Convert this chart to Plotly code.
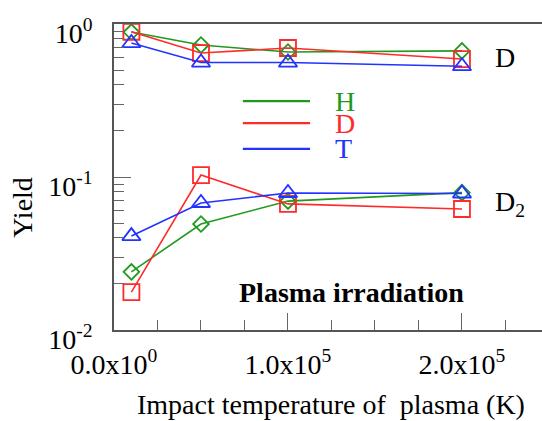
import plotly.graph_objects as go

# ---- data ----
temperature = [1.0e4, 5.0e4, 1.0e5, 2.0e5]
H_D = [0.886, 0.729, 0.656, 0.667]
D_D = [0.89, 0.646, 0.697, 0.59]
T_D = [0.751, 0.56, 0.56, 0.53]
H_D2 = [0.0240, 0.0493, 0.0696, 0.079]
D_D2 = [0.0177, 0.103, 0.0667, 0.0618]
T_D2 = [0.0411, 0.0676, 0.0786, 0.078]

species = ["H", "D", "T"]
colors = {"H": "#1f9a1f", "D": "#ff2a2a", "T": "#2233ff"}
symbols = {"H": "diamond-open", "D": "square-open", "T": "triangle-up-open"}
sizes = {"H": 12, "D": 16, "T": 16}
series_D = {"H": H_D, "D": D_D, "T": T_D}
series_D2 = {"H": H_D2, "D": D_D2, "T": T_D2}

y_tickvals = [0.01, 0.1, 1.0]
y_ticktext = ["10<sup>-2</sup>", "10<sup>-1</sup>", "10<sup>0</sup>"]
x_tickvals = [0.0, 1.0e5, 2.0e5]
x_ticktext = ["0.0x10<sup>0</sup>", "1.0x10<sup>5</sup>", "2.0x10<sup>5</sup>"]
y_minor = [m * 10 ** e for e in (-2, -1) for m in range(2, 10)]
x_minor = [0.25e5, 0.5e5, 0.75e5, 1.25e5, 1.5e5, 1.75e5, 2.25e5]

FONT = "Liberation Serif, Times New Roman, Times, serif"

fig = go.Figure()
for group in (series_D, series_D2):
    for s in species:
        fig.add_trace(go.Scatter(
            x=temperature, y=group[s], mode="lines+markers",
            line=dict(color=colors[s], width=1.6),
            marker=dict(symbol=symbols[s], size=sizes[s], color=colors[s],
                        line=dict(width=1.8, color=colors[s])),
            showlegend=False, cliponaxis=False))

# legend drawn by hand (lines + coloured letters)
leg_y = [0.748, 0.676, 0.592]
for s, yy in zip(species, leg_y):
    fig.add_shape(type="line", xref="paper", yref="paper",
                  x0=0.301, x1=0.458, y0=yy, y1=yy,
                  line=dict(color=colors[s], width=2.2))
    fig.add_annotation(xref="paper", yref="paper", x=0.512, y=yy, text=s,
                       showarrow=False, xanchor="left", yanchor="middle",
                       font=dict(family=FONT, size=28, color=colors[s]))

fig.add_annotation(xref="paper", yref="paper", x=0.886, y=0.889, text="D",
                   showarrow=False, xanchor="left", yanchor="middle",
                   font=dict(family=FONT, size=28, color="black"))
fig.add_annotation(xref="paper", yref="paper", x=0.886, y=0.415, text="D<sub>2</sub>",
                   showarrow=False, xanchor="left", yanchor="middle",
                   font=dict(family=FONT, size=28, color="black"))
fig.add_annotation(xref="paper", yref="paper", x=0.554, y=0.121,
                   text="<b>Plasma irradiation</b>",
                   showarrow=False, xanchor="center", yanchor="middle",
                   font=dict(family=FONT, size=28, color="black"))
fig.add_annotation(xref="paper", yref="paper", x=0.507, y=-0.245,
                   text="Impact temperature of\u00a0 plasma (K)",
                   showarrow=False, xanchor="center", yanchor="middle",
                   font=dict(family=FONT, size=28, color="black"))
fig.add_annotation(xref="paper", yref="paper", x=-0.213, y=0.402, text="Yield",
                   textangle=-90, showarrow=False, xanchor="center", yanchor="middle",
                   font=dict(family=FONT, size=28, color="black"))

fig.update_xaxes(range=[0, 2.46e5], tickmode="array", tickvals=x_tickvals,
                 ticktext=x_ticktext, ticks="inside", ticklen=17, tickwidth=1.2,
                 tickcolor="#666", showline=True, linecolor="#555", linewidth=1.8,
                 mirror=True, showgrid=False, zeroline=False, ticklabelstandoff=8,
                 tickfont=dict(family=FONT, size=28, color="black"),
                 minor=dict(tickmode="array", tickvals=x_minor, ticks="inside",
                            ticklen=10, tickcolor="#666", tickwidth=1.2, showgrid=False))
fig.update_yaxes(type="log", range=[-2, 0], tickmode="array", tickvals=y_tickvals,
                 ticktext=y_ticktext, ticks="inside", ticklen=17, tickwidth=1.2,
                 tickcolor="#666", showline=True, linecolor="#555", linewidth=1.8,
                 mirror=False, showgrid=False, zeroline=False,
                 ticklabelshift=9, ticklabelstandoff=14,
                 tickfont=dict(family=FONT, size=28, color="black"),
                 minor=dict(tickmode="array", tickvals=y_minor, ticks="inside",
                            ticklen=10, tickcolor="#666", tickwidth=1.2, showgrid=False))

fig.update_layout(width=542, height=421, margin=dict(l=114, r=0, t=24, b=91),
                  plot_bgcolor="white", paper_bgcolor="white", showlegend=False)

fig.write_html("out.html")
